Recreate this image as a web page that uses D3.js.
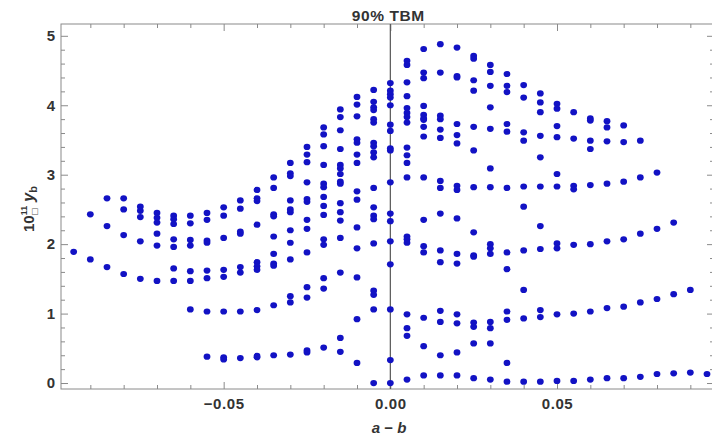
<!DOCTYPE html>
<html>
<head>
<meta charset="utf-8">
<script src="https://cdn.jsdelivr.net/npm/d3@7"></script>
<style>
  html, body { margin: 0; padding: 0; background: #fff; }
  svg { display: block; }
  .tick text { font-family: "Liberation Sans", Arial, sans-serif; font-weight: bold; fill: #333; }
</style>
</head>
<body>
<svg id="chart" width="712" height="437"></svg>
<script>
// ---- data ----
const aMinusB = [-0.095, -0.09, -0.085, -0.08, -0.075, -0.07, -0.065, -0.06, -0.055, -0.05,
  -0.045, -0.04, -0.035, -0.03, -0.025, -0.02, -0.015, -0.01, -0.005, 0,
  0.005, 0.01, 0.015, 0.02, 0.025, 0.03, 0.035, 0.04, 0.045, 0.05,
  0.055, 0.06, 0.065, 0.07, 0.075, 0.08, 0.085, 0.09, 0.095];

const ybByColumn = [
  [1.89],
  [2.43, 1.78],
  [2.66, 2.26, 1.67],
  [2.66, 2.50, 2.13, 1.57],
  [2.54, 2.48, 2.39, 2.04, 1.50],
  [2.45, 2.38, 2.31, 2.15, 1.98, 1.47],
  [2.41, 2.36, 2.29, 2.07, 1.96, 1.65, 1.47],
  [2.41, 2.30, 2.06, 1.98, 1.61, 1.47, 1.06],
  [2.45, 2.35, 2.05, 2.02, 1.62, 1.51, 1.03, 0.38],
  [2.53, 2.41, 2.09, 1.63, 1.53, 1.03, 0.37, 0.34],
  [2.63, 2.51, 2.18, 2.15, 1.67, 1.59, 1.03, 0.36],
  [2.78, 2.66, 2.62, 2.28, 1.74, 1.68, 1.63, 1.05, 0.39, 0.37],
  [2.96, 2.81, 2.43, 2.40, 2.11, 1.86, 1.72, 1.69, 1.12, 0.40],
  [3.17, 3.02, 2.98, 2.63, 2.50, 2.46, 2.20, 2.02, 1.78, 1.25, 1.16, 0.41],
  [3.40, 3.29, 3.18, 2.89, 2.65, 2.61, 2.35, 2.22, 1.88, 1.38, 1.23, 0.47, 0.44],
  [3.68, 3.58, 3.41, 3.14, 2.87, 2.82, 2.68, 2.55, 2.42, 2.07, 1.99, 1.51, 1.36, 0.51],
  [3.94, 3.83, 3.64, 3.37, 3.14, 3.09, 3.01, 2.90, 2.87, 2.59, 2.46, 2.34, 2.09, 1.59, 0.65, 0.45],
  [4.12, 4.01, 3.84, 3.51, 3.46, 3.29, 3.17, 2.76, 2.64, 2.24, 1.94, 1.52, 0.92, 0.29],
  [4.22, 4.05, 3.97, 3.93, 3.80, 3.75, 3.46, 3.41, 3.32, 3.25, 2.81, 2.53, 2.41, 2.36, 2.01, 1.33, 1.27, 1.06, 0.00],
  [4.32, 4.21, 4.16, 4.11, 4.00, 3.72, 3.63, 3.38, 3.35, 2.89, 2.44, 2.33, 2.04, 1.71, 1.06, 0.33, 0.00],
  [4.64, 4.58, 4.33, 4.13, 3.96, 3.89, 3.83, 3.75, 3.39, 3.28, 3.17, 2.96, 2.11, 2.07, 2.02, 0.99, 0.79, 0.68, 0.05],
  [4.81, 4.47, 4.39, 3.99, 3.86, 3.81, 3.79, 3.69, 3.55, 2.96, 2.35, 1.97, 1.88, 0.94, 0.53, 0.11],
  [4.88, 4.47, 3.85, 3.80, 3.65, 3.53, 2.91, 2.81, 2.44, 1.91, 1.74, 1.04, 0.88, 0.40, 0.11],
  [4.83, 4.42, 4.40, 3.73, 3.57, 3.45, 2.84, 2.78, 2.37, 1.86, 1.72, 0.99, 0.86, 0.44, 0.11],
  [4.71, 4.67, 4.36, 4.21, 3.69, 3.35, 2.82, 2.17, 1.84, 1.82, 0.87, 0.81, 0.57, 0.07],
  [4.58, 4.48, 4.28, 3.97, 3.66, 3.09, 2.82, 2.00, 1.94, 1.86, 0.88, 0.79, 0.57, 0.05],
  [4.45, 4.28, 4.19, 3.73, 3.62, 2.81, 1.88, 1.64, 1.03, 0.91, 0.29, 0.02],
  [4.29, 4.11, 3.61, 3.49, 2.83, 2.54, 1.91, 1.34, 0.93, 0.02],
  [4.17, 4.04, 3.90, 3.56, 3.25, 2.83, 2.26, 1.93, 1.05, 0.95, 0.02],
  [4.02, 3.95, 3.70, 3.54, 3.01, 2.83, 2.01, 1.94, 0.99, 0.03],
  [3.90, 3.52, 2.84, 2.79, 1.99, 1.00, 0.03],
  [3.81, 3.78, 3.49, 3.37, 2.85, 2.00, 1.03, 0.05],
  [3.77, 3.68, 3.48, 2.87, 2.04, 1.08, 0.07],
  [3.71, 3.47, 2.90, 2.07, 1.10, 0.07],
  [3.49, 2.96, 2.15, 1.16, 0.09],
  [3.03, 2.22, 1.21, 0.13],
  [2.31, 1.28, 0.14],
  [1.34, 0.15],
  [0.13]
];

const xTickValues = [-0.05, 0, 0.05];
const xTickLabels = ["\u22120.05", "0.00", "0.05"];
const xMinorTicks = [-0.09, -0.08, -0.07, -0.06, -0.04, -0.03, -0.02, -0.01,
  0.01, 0.02, 0.03, 0.04, 0.06, 0.07, 0.08, 0.09];
const yTickValues = [0, 1, 2, 3, 4, 5];
const yTickLabels = ["0", "1", "2", "3", "4", "5"];
const yMinorTicks = [0.2, 0.4, 0.6, 0.8, 1.2, 1.4, 1.6, 1.8, 2.2, 2.4, 2.6, 2.8,
  3.2, 3.4, 3.6, 3.8, 4.2, 4.4, 4.6, 4.8];
const markerX = 0;
const markerLabel = "90% TBM";

// ---- layout ----
const plotL = 61, plotR = 714, plotT = 24, plotB = 389;
const svg = d3.select("#chart");

const x = d3.scaleLinear().domain([-0.0988, 0.0971]).range([plotL, plotR]);
const y = d3.scaleLinear().domain([-0.086, 5.17]).range([plotB, plotT]);

const frameColor = "#8a8a8a";

function styleAxis(g) {
  g.select(".domain").remove();
  g.selectAll(".tick line").attr("stroke", frameColor).attr("stroke-width", 1);
}

// bottom axis (ticks inward)
svg.append("g").attr("transform", `translate(0,${plotB})`)
  .call(d3.axisBottom(x).tickValues(xTickValues).tickSize(-7).tickPadding(9)
    .tickFormat((d, i) => xTickLabels[i]))
  .call(styleAxis)
  .call(g => g.selectAll("text").attr("font-size", 15).attr("letter-spacing", "0.6px"));
svg.append("g").attr("transform", `translate(0,${plotB})`)
  .call(d3.axisBottom(x).tickValues(xMinorTicks).tickSize(-4).tickFormat(""))
  .call(styleAxis);
// top axis (ticks only)
svg.append("g").attr("transform", `translate(0,${plotT})`)
  .call(d3.axisTop(x).tickValues(xTickValues).tickSize(-7).tickFormat(""))
  .call(styleAxis);
svg.append("g").attr("transform", `translate(0,${plotT})`)
  .call(d3.axisTop(x).tickValues(xMinorTicks).tickSize(-4).tickFormat(""))
  .call(styleAxis);
// left axis
svg.append("g").attr("transform", `translate(${plotL},0)`)
  .call(d3.axisLeft(y).tickValues(yTickValues).tickSize(-7).tickPadding(6)
    .tickFormat((d, i) => yTickLabels[i]))
  .call(styleAxis)
  .call(g => g.selectAll("text").attr("font-size", 15));
svg.append("g").attr("transform", `translate(${plotL},0)`)
  .call(d3.axisLeft(y).tickValues(yMinorTicks).tickSize(-4).tickFormat(""))
  .call(styleAxis);
// right axis (ticks only)
svg.append("g").attr("transform", `translate(${plotR},0)`)
  .call(d3.axisRight(y).tickValues(yTickValues).tickSize(-7).tickFormat(""))
  .call(styleAxis);
svg.append("g").attr("transform", `translate(${plotR},0)`)
  .call(d3.axisRight(y).tickValues(yMinorTicks).tickSize(-4).tickFormat(""))
  .call(styleAxis);

// frame
svg.append("rect")
  .attr("x", plotL).attr("y", plotT)
  .attr("width", plotR - plotL).attr("height", plotB - plotT)
  .attr("fill", "none").attr("stroke", frameColor).attr("stroke-width", 1);

// vertical marker line
svg.append("line")
  .attr("x1", x(markerX)).attr("x2", x(markerX))
  .attr("y1", plotT).attr("y2", plotB)
  .attr("stroke", "#555").attr("stroke-width", 1.2);

svg.append("text")
  .attr("x", x(markerX) - 2).attr("y", 21)
  .attr("text-anchor", "middle")
  .attr("font-family", "Liberation Sans, Arial, sans-serif")
  .attr("font-weight", "bold").attr("font-size", 15.5)
  .attr("letter-spacing", "0.6px")
  .attr("fill", "#333")
  .text(markerLabel);

// points
const points = [];
aMinusB.forEach((xv, i) => ybByColumn[i].forEach(yv => points.push([xv, yv])));

svg.append("g").selectAll("ellipse").data(points).join("ellipse")
  .attr("cx", d => x(d[0])).attr("cy", d => y(d[1]))
  .attr("rx", 3.4).attr("ry", 3.1)
  .attr("fill", "#1212c4");

// x label
const xl = svg.append("text")
  .attr("x", 389).attr("y", 433)
  .attr("text-anchor", "middle")
  .attr("font-family", "Liberation Sans, Arial, sans-serif")
  .attr("font-weight", "bold").attr("font-size", 15)
  .attr("fill", "#333");
xl.append("tspan").attr("font-style", "italic").text("a");
xl.append("tspan").text(" \u2212 ");
xl.append("tspan").attr("font-style", "italic").text("b");

// y label (rotated): 10^11 with a small box subscript, then y_b
const yl = svg.append("text")
  .attr("transform", "translate(34,232) rotate(-90)")
  .attr("text-anchor", "start")
  .attr("font-family", "Liberation Sans, Arial, sans-serif")
  .attr("font-weight", "bold").attr("font-size", 15)
  .attr("fill", "#333");
yl.append("tspan").text("10");
yl.append("tspan").attr("font-size", 9).attr("dy", -7).text("11");
yl.append("tspan").attr("font-size", 8).attr("dx", -9.5).attr("dy", 10)
  .attr("font-family", "DejaVu Sans").attr("font-weight", "normal").attr("fill", "#555").text("\u25A1");
yl.append("tspan").attr("font-size", 16).attr("dy", -3).attr("dx", 6).attr("font-style", "italic").text("y");
yl.append("tspan").attr("font-size", 11).attr("dy", 3).text("b");
</script>
</body>
</html>
